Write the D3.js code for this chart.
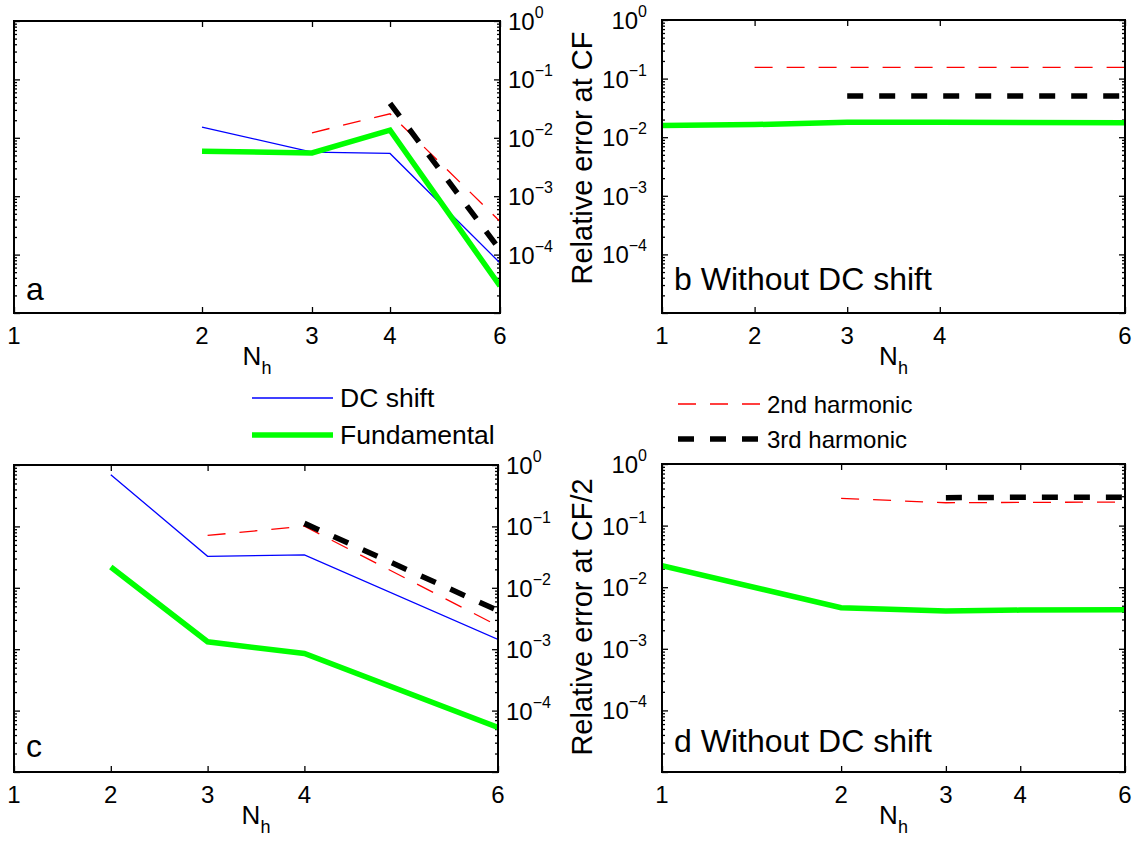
<!DOCTYPE html>
<html><head><meta charset="utf-8">
<script src="https://cdn.jsdelivr.net/npm/d3@7/dist/d3.min.js"></script>
<style>
html,body{margin:0;padding:0;background:#fff;}
text{font-family:"Liberation Sans",Arial,Helvetica,sans-serif;fill:#000;}
</style></head>
<body>
<svg id="chart" width="1143" height="854"></svg>
<script>
// ---------- data ----------
const xTickValues = [1, 2, 3, 4, 6];
const yTickExponents = [0, -1, -2, -3, -4];

// panel a (log x)
const aDC_x = [2, 3, 4, 6],   aDC = [0.0152, 0.0057, 0.0054, 7.2e-5];
const aFund_x = [2, 3, 4, 6], aFund = [0.0059, 0.0055, 0.0135, 2.9e-5];
const a2nd_x = [3, 4, 6],     a2nd = [0.0122, 0.0258, 3.7e-4];
const a3rd_x = [4, 6],        a3rd = [0.0388, 1.2e-4];

// panel b (linear x)
const bFund_x = [1, 2, 3, 4, 6], bFund = [0.0158, 0.0164, 0.018, 0.018, 0.0176];
const b2nd_x = [2, 3, 4, 6],     b2nd = [0.155, 0.155, 0.155, 0.155];
const b3rd_x = [3, 4, 6],        b3rd = [0.0507, 0.0507, 0.0507];

// panel c (linear x)
const cDC_x = [2, 3, 4, 6],   cDC = [0.695, 0.0326, 0.0343, 0.00144];
const cFund_x = [2, 3, 4, 6], cFund = [0.0218, 0.00132, 8.5e-4, 5.3e-5];
const c2nd_x = [3, 4, 6],     c2nd = [0.0712, 0.101, 0.0024];
const c3rd_x = [4, 6],        c3rd = [0.112, 0.00425];

// panel d (log x)
const dFund_x = [1, 2, 3, 4, 6], dFund = [0.0224, 0.00464, 0.0041, 0.00425, 0.0043];
const d2nd_x = [2, 3, 4, 6],     d2nd = [0.277, 0.235, 0.238, 0.241];
const d3rd_x = [3, 4, 6],        d3rd = [0.284, 0.288, 0.288];

const seriesNames = ["DC shift", "Fundamental", "2nd harmonic", "3rd harmonic"];

// ---------- styles ----------
const styles = {
  dc:   {stroke: "#0000ff", width: 1.3, dash: null},
  fund: {stroke: "#00ff00", width: 5.5, dash: null},
  h2:   {stroke: "#ff0000", width: 1.3, dash: "18,14"},
  h3:   {stroke: "#000000", width: 5.5, dash: "16,16"}
};

const svg = d3.select("#chart");
const FONT_TICK = 24, FONT_SUP = 16, FONT_PANEL = 32;

function panel(cfg) {
  const {L, R, T, B, xType, yLabelSide, series, panelText, panelTextY, ylabel, ylabelY, id} = cfg;
  const g = svg.append("g");
  const x = (xType === "log" ? d3.scaleLog() : d3.scaleLinear()).domain([1, 6]).range([L, R]);
  const y = d3.scaleLog().domain([1e-5, 1]).range([B, T]);

  svg.append("clipPath").attr("id", "clip" + id).append("rect")
    .attr("x", L).attr("y", T).attr("width", R - L).attr("height", B - T);

  const minor = [];
  for (let e = -5; e < 0; e++) for (let m = 2; m <= 9; m++) minor.push(m * Math.pow(10, e));
  const majorY = [1, 1e-1, 1e-2, 1e-3, 1e-4, 1e-5];

  const axStyle = sel => {
    sel.select(".domain").remove();
    sel.selectAll("line").attr("stroke", "#000").attr("stroke-width", 1.3);
    sel.selectAll("text").remove();
  };
  g.append("g").attr("transform", `translate(0,${B})`)
    .call(d3.axisBottom(x).tickValues(xTickValues).tickSize(-6).tickFormat("")).call(axStyle);
  g.append("g").attr("transform", `translate(0,${T})`)
    .call(d3.axisTop(x).tickValues(xTickValues).tickSize(-6).tickFormat("")).call(axStyle);
  g.append("g").attr("transform", `translate(${L},0)`)
    .call(d3.axisLeft(y).tickValues(majorY).tickSize(-6).tickFormat("")).call(axStyle);
  g.append("g").attr("transform", `translate(${R},0)`)
    .call(d3.axisRight(y).tickValues(majorY).tickSize(-6).tickFormat("")).call(axStyle);
  g.append("g").attr("transform", `translate(${L},0)`)
    .call(d3.axisLeft(y).tickValues(minor).tickSize(-3).tickFormat("")).call(axStyle);
  g.append("g").attr("transform", `translate(${R},0)`)
    .call(d3.axisRight(y).tickValues(minor).tickSize(-3).tickFormat("")).call(axStyle);

  g.selectAll(".xl").data(xTickValues).enter().append("text")
    .attr("x", d => x(d)).attr("y", B + 31).attr("text-anchor", "middle")
    .attr("font-size", FONT_TICK).text(d => d);

  yTickExponents.forEach(e => {
    const yy = y(Math.pow(10, e));
    const t = g.append("text").attr("font-size", FONT_TICK).attr("y", yy + 9);
    if (yLabelSide === "right") {
      t.attr("x", R + 8).attr("text-anchor", "start");
    } else {
      t.attr("x", L - 15).attr("text-anchor", "end");
    }
    t.append("tspan").text("10");
    t.append("tspan").attr("font-size", FONT_SUP).attr("dy", -12)
      .text(e === 0 ? "0" : "\u2212" + (-e));
  });

  const lineGen = d3.line().x(d => x(d[0])).y(d => y(d[1]));
  const lg = g.append("g").attr("clip-path", `url(#clip${id})`);
  series.forEach(s => {
    const st = styles[s.style];
    const pts = s.xs.map((v, i) => [v, s.ys[i]]);
    lg.append("path").datum(pts).attr("d", lineGen)
      .attr("fill", "none").attr("stroke", st.stroke).attr("stroke-width", st.width)
      .attr("stroke-dasharray", st.dash).attr("stroke-linejoin", "miter");
  });

  g.append("rect").attr("x", L).attr("y", T).attr("width", R - L).attr("height", B - T)
    .attr("fill", "none").attr("stroke", "#000").attr("stroke-width", 2);

  g.append("text").attr("x", L + 12).attr("y", panelTextY).attr("font-size", FONT_PANEL).text(panelText);

  const xl = g.append("text").attr("x", (L + R) / 2).attr("y", B + 52)
    .attr("text-anchor", "middle").attr("font-size", 26);
  xl.append("tspan").text("N");
  xl.append("tspan").attr("font-size", 18).attr("dy", 9).text("h");

  if (ylabel) {
    g.append("text").attr("transform", `translate(${L - 70},${ylabelY}) rotate(-90)`)
      .attr("text-anchor", "middle").attr("font-size", 29).text(ylabel);
  }
}

panel({id: "a", L: 14, R: 500, T: 21, B: 313, xType: "log", yLabelSide: "right",
  panelText: "a", panelTextY: 300, ylabel: null,
  series: [
    {style: "dc", xs: aDC_x, ys: aDC},
    {style: "fund", xs: aFund_x, ys: aFund},
    {style: "h2", xs: a2nd_x, ys: a2nd},
    {style: "h3", xs: a3rd_x, ys: a3rd}
  ]});

panel({id: "b", L: 662, R: 1125, T: 20, B: 313, xType: "linear", yLabelSide: "left",
  panelText: "b Without DC shift", panelTextY: 290, ylabel: "Relative error at CF", ylabelY: 158,
  series: [
    {style: "fund", xs: bFund_x, ys: bFund},
    {style: "h2", xs: b2nd_x, ys: b2nd},
    {style: "h3", xs: b3rd_x, ys: b3rd}
  ]});

panel({id: "c", L: 14, R: 498, T: 465, B: 772, xType: "linear", yLabelSide: "right",
  panelText: "c", panelTextY: 757, ylabel: null,
  series: [
    {style: "dc", xs: cDC_x, ys: cDC},
    {style: "fund", xs: cFund_x, ys: cFund},
    {style: "h2", xs: c2nd_x, ys: c2nd},
    {style: "h3", xs: c3rd_x, ys: c3rd}
  ]});

panel({id: "d", L: 662, R: 1125, T: 464, B: 772, xType: "log", yLabelSide: "left",
  panelText: "d Without DC shift", panelTextY: 752, ylabel: "Relative error at CF/2", ylabelY: 617,
  series: [
    {style: "fund", xs: dFund_x, ys: dFund},
    {style: "h2", xs: d2nd_x, ys: d2nd},
    {style: "h3", xs: d3rd_x, ys: d3rd}
  ]});

function legend(items, x0, x1, tx, fs) {
  const lg = svg.append("g");
  items.forEach(it => {
    const st = styles[it.style];
    lg.append("line").attr("x1", x0).attr("x2", x1).attr("y1", it.y).attr("y2", it.y)
      .attr("stroke", st.stroke).attr("stroke-width", st.width).attr("stroke-dasharray", st.dash);
    lg.append("text").attr("x", tx).attr("y", it.y + 9).attr("font-size", fs).text(it.name);
  });
}
legend([{style: "dc", name: seriesNames[0], y: 398}, {style: "fund", name: seriesNames[1], y: 435}], 252, 333, 340, 26.5);
legend([{style: "h2", name: seriesNames[2], y: 404}, {style: "h3", name: seriesNames[3], y: 439}], 678, 760, 767, 24);
</script>
</body></html>
